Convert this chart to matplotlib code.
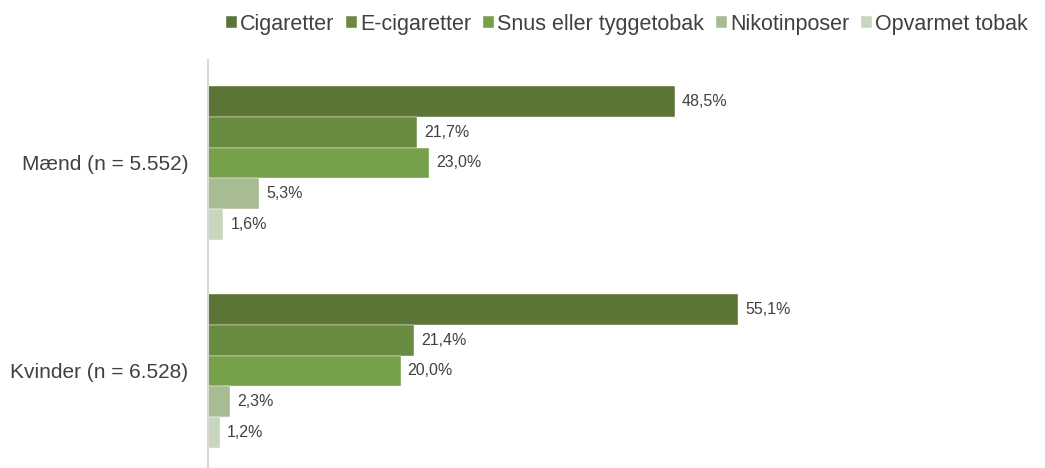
import matplotlib.pyplot as plt
import numpy as np

plt.rcParams['font.family'] = ['Liberation Sans', 'DejaVu Sans']

groups = ['Mænd (n = 5.552)', 'Kvinder (n = 6.528)']
series = ['Cigaretter', 'E-cigaretter', 'Snus eller tyggetobak', 'Nikotinposer', 'Opvarmet tobak']
values = [
    [48.5, 55.1],
    [21.7, 21.4],
    [23.0, 20.0],
    [5.3, 2.3],
    [1.6, 1.2],
]
colors = ['#5A7536', '#6A8C40', '#76A04A', '#A8BC94', '#C8D6BE']

fig = plt.figure(figsize=(10.45, 4.68), dpi=100)
# axes in pixels: left 208, top 60, bottom 467
ax = fig.add_axes([208 / 1045, 1 - 467 / 468, (1030 - 208) / 1045, (467 - 60) / 468])

bar_h = 0.1475
y = np.arange(len(groups))
n = len(series)
for i, (name, vals, c) in enumerate(zip(series, values, colors)):
    pos = y + (i - (n - 1) / 2) * bar_h
    ax.barh(pos, vals, height=bar_h, color=c, label=name,
            edgecolor='white', linewidth=0.3)
    for p, v in zip(pos, vals):
        ax.text(v + 0.75, p, f'{v:.1f}%'.replace('.', ','), va='center', ha='left',
                fontsize=11.5, color='#404040')

ax.set_xlim(0, 85.4)
ax.set_ylim(1 + (467 - 371) / 208, 0 - (163 - 60) / 208)
ax.set_yticks(y)
ax.set_yticklabels(groups, fontsize=15, color='#404040')
ax.tick_params(axis='y', length=0, pad=14)
ax.set_xticks([])
for s in ['top', 'right', 'bottom']:
    ax.spines[s].set_visible(False)
ax.spines['left'].set_color('#D9D9D9')
ax.spines['left'].set_linewidth(1.5)

fig.legend(loc='upper right', bbox_to_anchor=(1.002, 1.012), ncol=5, frameon=False,
           fontsize=15.5, handlelength=0.5, handleheight=0.5, handletextpad=0.15,
           columnspacing=0.55, labelcolor='#404040')

fig.savefig('out.png', dpi=100)
